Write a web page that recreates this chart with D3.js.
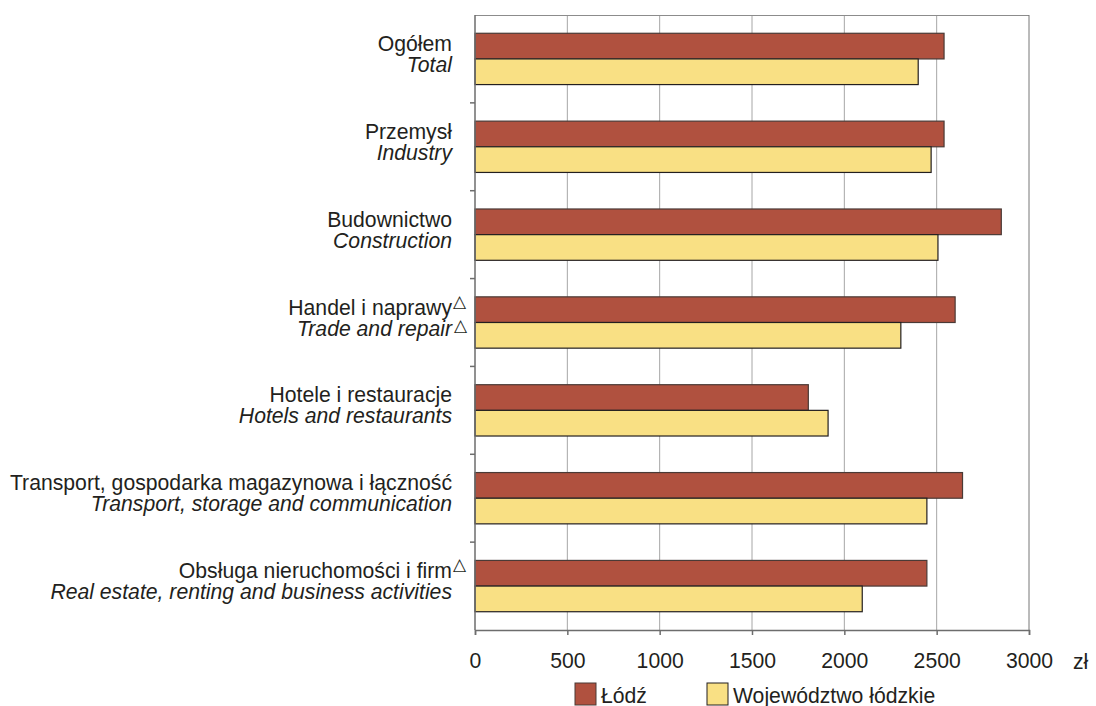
<!DOCTYPE html>
<html>
<head>
<meta charset="utf-8">
<script src="https://cdn.jsdelivr.net/npm/d3@7"></script>
<style>
  body { margin: 0; background: #fff; }
  text { font-family: "Liberation Sans", Arial, sans-serif; fill: #231f20; }
</style>
</head>
<body>
<div id="chart"></div>
<script>
// Data
var labelsPl = ["Ogółem", "Przemysł", "Budownictwo", "Handel i naprawy", "Hotele i restauracje",
  "Transport, gospodarka magazynowa i łączność", "Obsługa nieruchomości i firm"];
var labelsEn = ["Total", "Industry", "Construction", "Trade and repair", "Hotels and restaurants",
  "Transport, storage and communication", "Real estate, renting and business activities"];
var markPl = [false, false, false, true, false, false, true];
var markEn = [false, false, false, true, false, false, false];
var seriesNames = ["Łódź", "Województwo łódzkie"];
var lodz = [2540, 2540, 2850, 2600, 1805, 2640, 2447];
var wojewodztwo = [2400, 2470, 2507, 2306, 1912, 2447, 2097];
var xTicks = [0, 500, 1000, 1500, 2000, 2500, 3000];

var svgWidth = 1096;
var svgHeight = 706;
var margin = { top: 15, bottom: 76, left: 475, right: 67 };
var width = svgWidth - margin.left - margin.right;
var height = svgHeight - margin.top - margin.bottom;
var colors = ["#b0513f", "#f9e084"];
var strokes = ["#4a3a36", "#231f20"];
var fontSize = 21.2;

var svg = d3.select("#chart")
  .append("svg")
  .attr("width", svgWidth)
  .attr("height", svgHeight);

var g = svg.append("g")
  .attr("transform", `translate(${margin.left}, ${margin.top})`);

// scales
var xScale = d3.scaleLinear().domain([0, 3000]).range([0, width]);
var yScale = d3.scaleBand()
  .domain(d3.range(labelsPl.length))
  .range([0, height])
  .paddingInner(0.416)
  .paddingOuter(0.208);
var ySub = d3.scaleBand().domain([0, 1]).range([0, yScale.bandwidth()]);

// gridlines
g.selectAll(".grid")
  .data(xTicks.slice(1, -1))
  .enter().append("line")
  .attr("x1", d => xScale(d)).attr("x2", d => xScale(d))
  .attr("y1", 0).attr("y2", height)
  .attr("stroke", "#a6a6a6").attr("stroke-width", 1);

// frame top and right
g.append("line").attr("x1", 0).attr("x2", width).attr("y1", 0.5).attr("y2", 0.5)
  .attr("stroke", "#8c8c8c");
g.append("line").attr("x1", width).attr("x2", width).attr("y1", 0).attr("y2", height)
  .attr("stroke", "#777");

// bars
var rows = labelsPl.map((d, i) => ({ i: i, values: [lodz[i], wojewodztwo[i]] }));
var groups = g.selectAll(".cat")
  .data(rows)
  .enter().append("g")
  .attr("transform", d => `translate(0, ${yScale(d.i)})`);

groups.selectAll("rect")
  .data(d => d.values.map((v, k) => ({ k: k, v: v })))
  .enter().append("rect")
  .attr("x", xScale(0))
  .attr("y", d => ySub(d.k))
  .attr("width", d => xScale(d.v) - xScale(0))
  .attr("height", ySub.bandwidth())
  .attr("fill", d => colors[d.k])
  .attr("stroke", d => strokes[d.k])
  .attr("stroke-width", 1.2);

// left axis: ticks at category boundaries
var step = yScale.step();
var boundaries = d3.range(labelsPl.length + 1).map(i => i * step);
g.append("line").attr("x1", 0).attr("x2", 0).attr("y1", 0).attr("y2", height)
  .attr("stroke", "#6d6d6d").attr("stroke-width", 1.5);
g.selectAll(".ytick")
  .data(boundaries.slice(1, -1))
  .enter().append("line")
  .attr("x1", -5).attr("x2", 0)
  .attr("y1", d => d).attr("y2", d => d)
  .attr("stroke", "#6d6d6d").attr("stroke-width", 1.5);

// bottom axis
var bottomAxis = d3.axisBottom(xScale).tickValues(xTicks).tickSize(5).tickPadding(18)
  .tickFormat(d3.format("d"));
var xAxisG = g.append("g")
  .attr("transform", `translate(0, ${height})`)
  .call(bottomAxis);
xAxisG.select(".domain").attr("stroke", "#6d6d6d").attr("stroke-width", 1.5);
xAxisG.selectAll(".tick line").attr("stroke", "#6d6d6d").attr("stroke-width", 1.5);
xAxisG.selectAll(".tick text")
  .attr("font-size", fontSize)
  .attr("font-family", "Liberation Sans, Arial, sans-serif")
  .attr("fill", "#231f20");

g.append("text")
  .attr("x", width + 44)
  .attr("y", height + 39)
  .attr("font-size", fontSize)
  .text("zł");

// category labels (two lines, right aligned), triangles hang past the edge
var labelX = -23;
rows.forEach(function (d) {
  var cy = yScale(d.i) + yScale.bandwidth() / 2;
  g.append("text")
    .attr("x", labelX).attr("y", cy - 8)
    .attr("text-anchor", "end")
    .attr("font-size", fontSize)
    .text(labelsPl[d.i]);
  g.append("text")
    .attr("x", labelX).attr("y", cy + 13)
    .attr("text-anchor", "end")
    .attr("font-size", fontSize)
    .attr("font-style", "italic")
    .text(labelsEn[d.i]);
  if (markPl[d.i]) {
    g.append("text")
      .attr("x", labelX + 1).attr("y", cy - 16)
      .attr("font-size", 17)
      .attr("font-family", "DejaVu Sans")
      .text("△");
  }
  if (markEn[d.i]) {
    g.append("text")
      .attr("x", labelX + 2).attr("y", cy + 8)
      .attr("font-size", 17)
      .attr("font-family", "DejaVu Sans")
      .text("△");
  }
});

// legend
var legend = svg.append("g").attr("transform", "translate(575, 683)");
var legendX = [0, 132];
seriesNames.forEach(function (name, k) {
  legend.append("rect")
    .attr("x", legendX[k]).attr("y", 0)
    .attr("width", 21).attr("height", 22)
    .attr("fill", colors[k])
    .attr("stroke", strokes[k]).attr("stroke-width", 1);
  legend.append("text")
    .attr("x", legendX[k] + 26).attr("y", 20)
    .attr("font-size", fontSize)
    .text(name);
});
</script>
</body>
</html>
